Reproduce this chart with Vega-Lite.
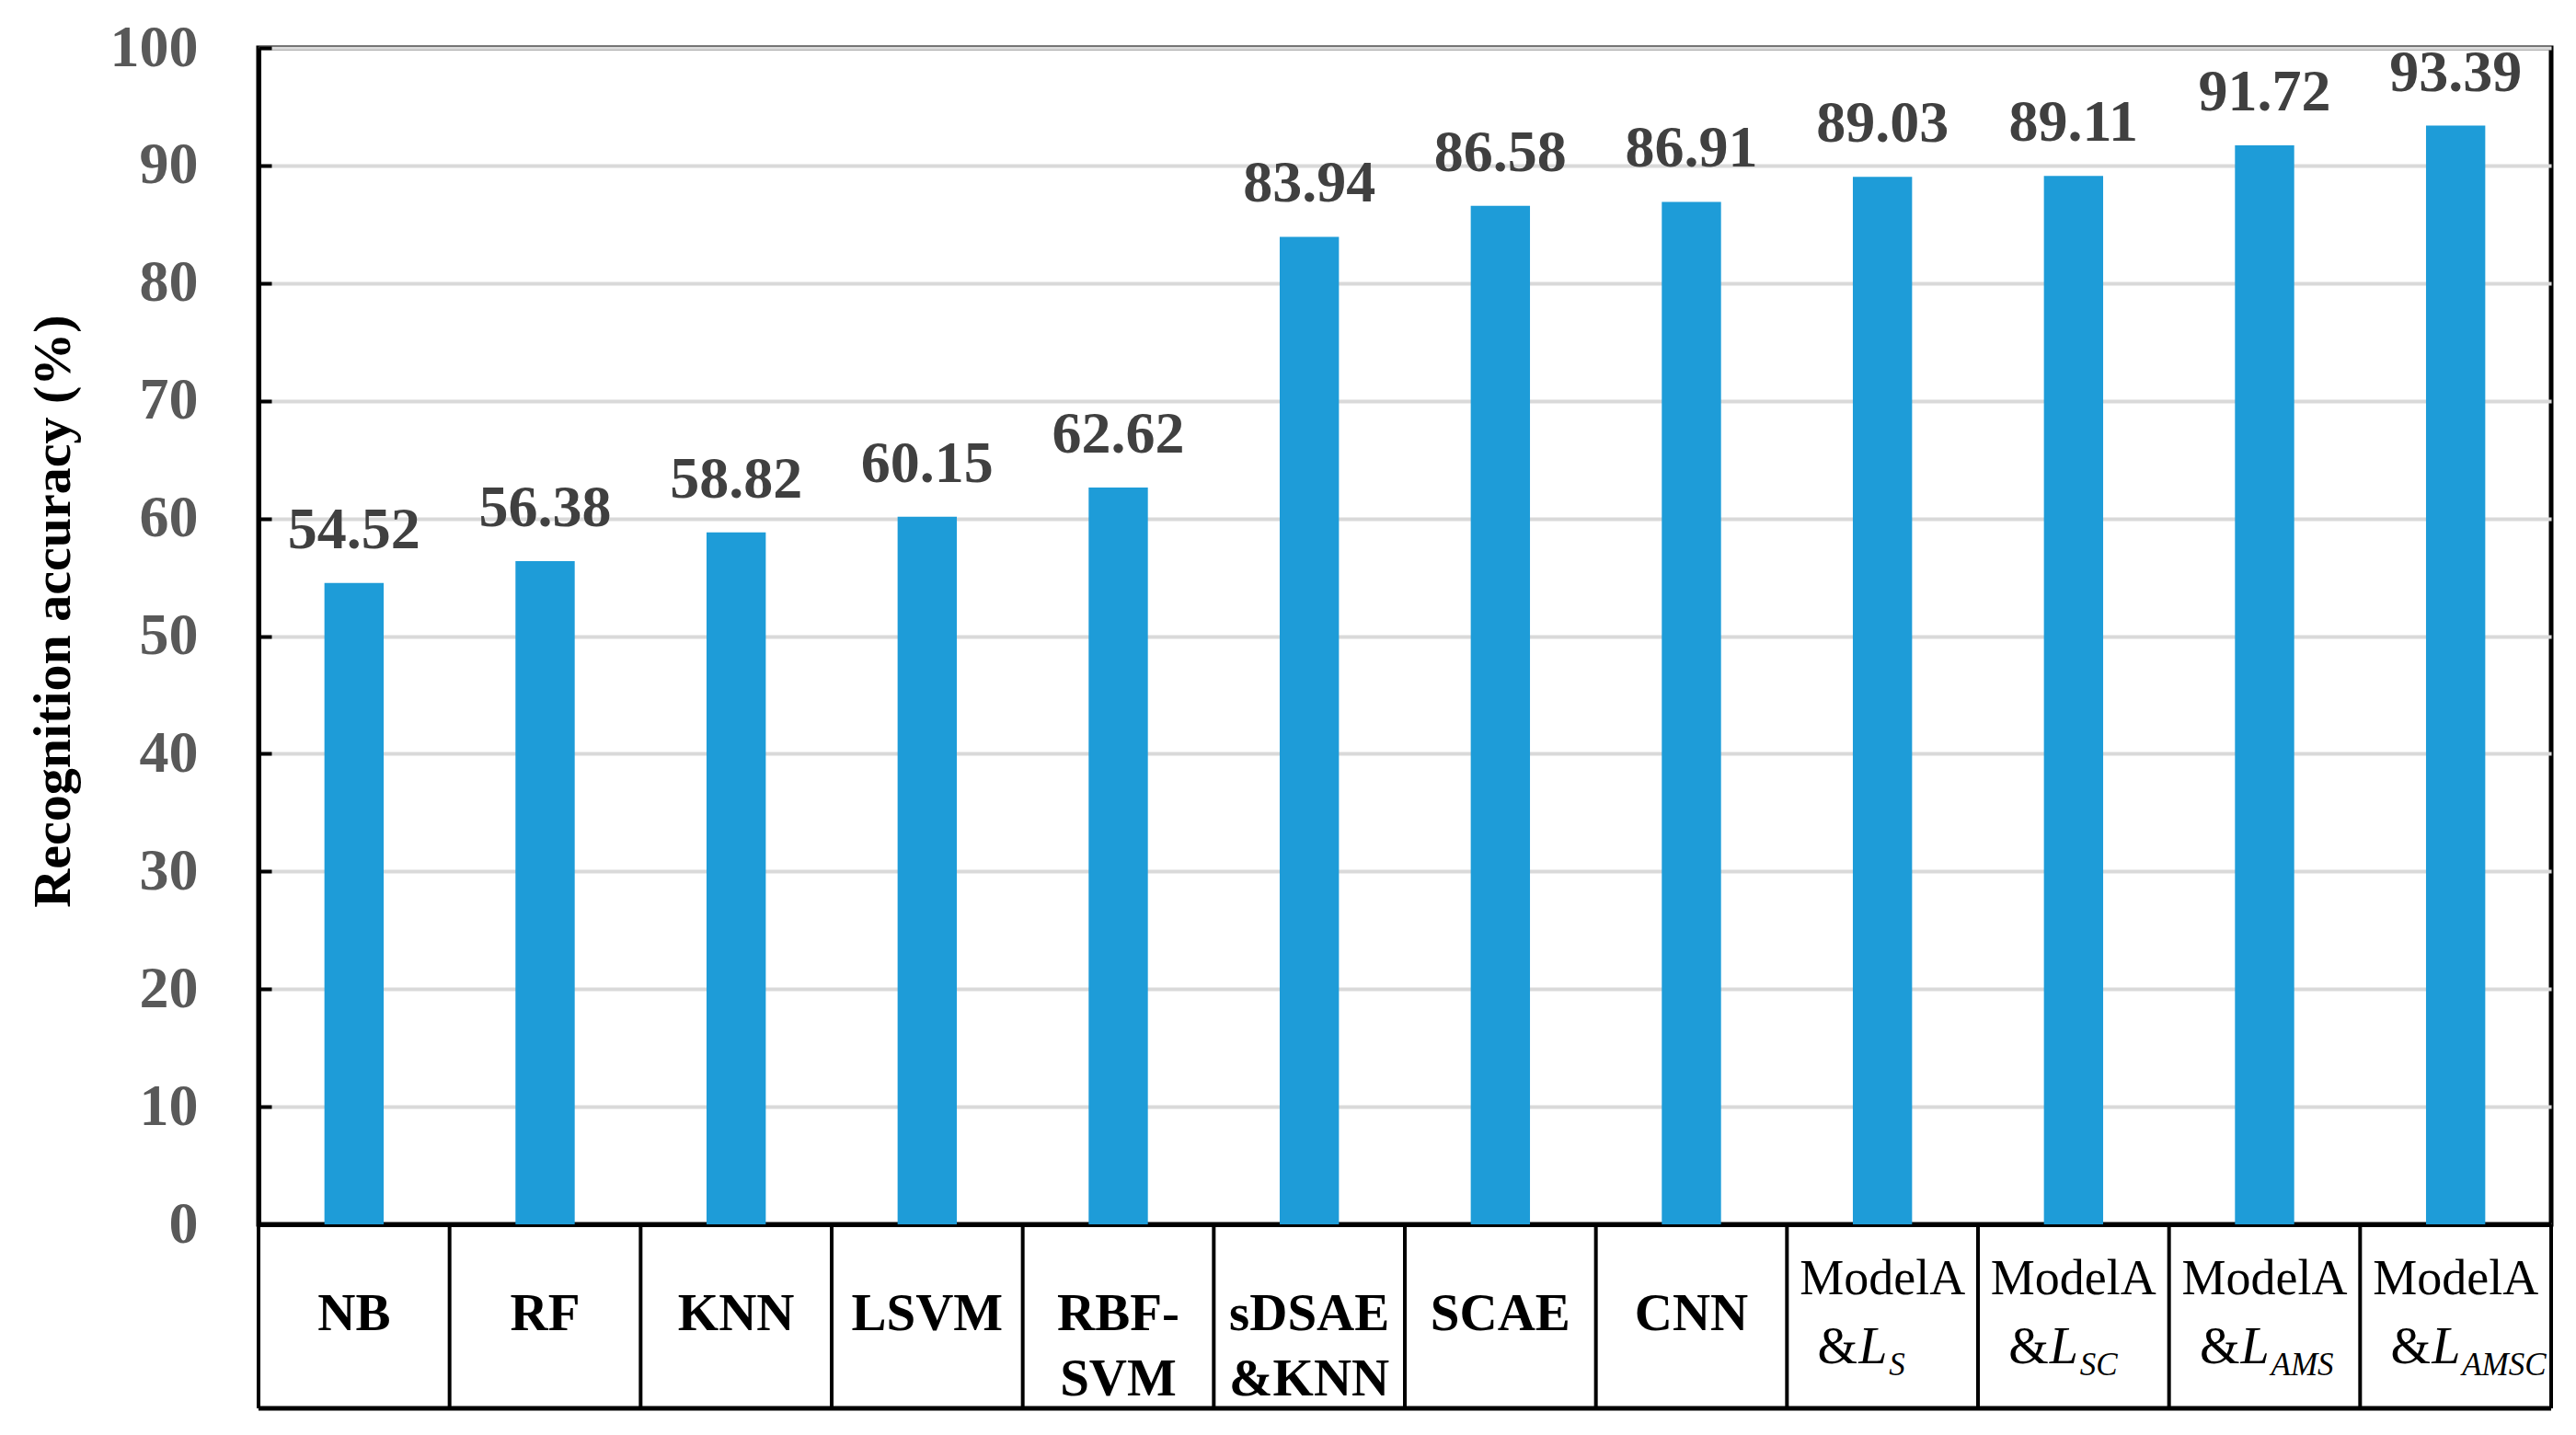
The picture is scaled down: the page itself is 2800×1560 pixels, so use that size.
{
  "$schema": "https://vega.github.io/schema/vega-lite/v6.json",
  "width": 2492,
  "height": 1279,
  "padding": {"left": 29, "top": 20, "right": 5, "bottom": 5},
  "background": "white",
  "config": {
    "view": {"stroke": "black", "strokeWidth": 5},
    "font": "Liberation Serif"
  },
  "data": {
    "values": [
      {"method": "NB", "acc": 54.52, "label": "NB"},
      {"method": "RF", "acc": 56.38, "label": "RF"},
      {"method": "KNN", "acc": 58.82, "label": "KNN"},
      {"method": "LSVM", "acc": 60.15, "label": "LSVM"},
      {"method": "RBF-SVM", "acc": 62.62, "label": "RBF-\nSVM"},
      {"method": "sDSAE&KNN", "acc": 83.94, "label": "sDSAE\n&KNN"},
      {"method": "SCAE", "acc": 86.58, "label": "SCAE"},
      {"method": "CNN", "acc": 86.91, "label": "CNN"},
      {"method": "ModelA&L_S", "acc": 89.03, "model": "ModelA", "sub": "S"},
      {"method": "ModelA&L_SC", "acc": 89.11, "model": "ModelA", "sub": "SC"},
      {"method": "ModelA&L_AMS", "acc": 91.72, "model": "ModelA", "sub": "AMS"},
      {"method": "ModelA&L_AMSC", "acc": 93.39, "model": "ModelA", "sub": "AMSC"}
    ]
  },
  "layer": [
    {
      "mark": {"type": "bar", "color": "#1E9CD8", "width": {"band": 0.31}},
      "encoding": {
        "x": {
          "field": "method", "type": "nominal", "sort": null,
          "scale": {"paddingInner": 0, "paddingOuter": 0},
          "axis": {"labels": false, "ticks": false, "grid": false, "domainColor": "black", "domainWidth": 5, "title": null},
          "title": null
        },
        "y": {
          "field": "acc", "type": "quantitative",
          "scale": {"domain": [0, 100], "nice": false},
          "title": "Recognition accuracy (%)",
          "axis": {
            "values": [0, 10, 20, 30, 40, 50, 60, 70, 80, 90, 100],
            "grid": true, "gridColor": "#D9D9D9", "gridWidth": 4,
            "domainColor": "black", "domainWidth": 5,
            "tickColor": "black", "tickWidth": 4, "tickSize": -14,
            "labelFont": "Liberation Serif", "labelFontSize": 64, "labelFontWeight": "bold",
            "labelColor": "#595959", "labelPadding": 80,
            "titleFont": "Liberation Serif", "titleFontSize": 58, "titleFontWeight": "bold",
            "titleColor": "black", "titlePadding": 32, "titleY": 612
          }
        }
      }
    },
    {
      "mark": {"type": "text", "font": "Liberation Serif", "fontSize": 64, "fontWeight": "bold", "color": "#404040", "baseline": "alphabetic", "dy": -38},
      "encoding": {
        "x": {"field": "method", "type": "nominal", "sort": null, "title": null},
        "y": {"field": "acc", "type": "quantitative"},
        "text": {"field": "acc", "type": "quantitative", "format": ".2f"}
      }
    },
    {
      "mark": {"type": "rule", "color": "black", "strokeWidth": 4},
      "encoding": {
        "x": {"field": "method", "type": "nominal", "sort": null, "bandPosition": 0, "title": null},
        "y": {"datum": 0},
        "y2": {"datum": -15.64}
      }
    },
    {
      "transform": [{"filter": "datum.method === 'ModelA&L_AMSC'"}],
      "mark": {"type": "rule", "color": "black", "strokeWidth": 4},
      "encoding": {
        "x": {"field": "method", "type": "nominal", "sort": null, "bandPosition": 1, "title": null},
        "y": {"datum": 0},
        "y2": {"datum": -15.64}
      }
    },
    {
      "data": {"values": [{"edge": "bottom"}]},
      "mark": {"type": "rule", "color": "black", "strokeWidth": 5},
      "encoding": {
        "y": {"datum": -15.64}
      }
    },
    {
      "transform": [{"filter": "datum.label"}],
      "mark": {"type": "text", "font": "Liberation Serif", "fontSize": 57, "fontWeight": "bold", "color": "black", "baseline": "middle", "lineBreak": "\n", "lineHeight": 71},
      "encoding": {
        "x": {"field": "method", "type": "nominal", "sort": null, "title": null},
        "y": {"datum": -7.7},
        "text": {"field": "label"}
      }
    },
    {
      "transform": [{"filter": "datum.sub"}],
      "mark": {"type": "text", "font": "Liberation Serif", "fontSize": 54, "color": "black", "baseline": "middle"},
      "encoding": {
        "x": {"field": "method", "type": "nominal", "sort": null, "title": null},
        "y": {"datum": -4.7},
        "text": {"field": "model"}
      }
    },
    {
      "transform": [{"filter": "datum.sub"}],
      "mark": {"type": "text", "font": "Liberation Serif", "fontSize": 56, "color": "black", "baseline": "alphabetic", "align": "right", "dx": -27},
      "encoding": {
        "x": {"field": "method", "type": "nominal", "sort": null, "title": null},
        "y": {"datum": -11.8},
        "text": {"value": "&"}
      }
    },
    {
      "transform": [{"filter": "datum.sub"}],
      "mark": {"type": "text", "font": "Liberation Serif", "fontSize": 56, "fontStyle": "italic", "color": "black", "baseline": "alphabetic", "align": "left", "dx": -26},
      "encoding": {
        "x": {"field": "method", "type": "nominal", "sort": null, "title": null},
        "y": {"datum": -11.8},
        "text": {"value": "L"}
      }
    },
    {
      "transform": [{"filter": "datum.sub"}],
      "mark": {"type": "text", "font": "Liberation Serif", "fontSize": 35, "fontStyle": "italic", "color": "black", "baseline": "alphabetic", "align": "left", "dx": 7, "dy": 13},
      "encoding": {
        "x": {"field": "method", "type": "nominal", "sort": null, "title": null},
        "y": {"datum": -11.8},
        "text": {"field": "sub"}
      }
    }
  ]
}
